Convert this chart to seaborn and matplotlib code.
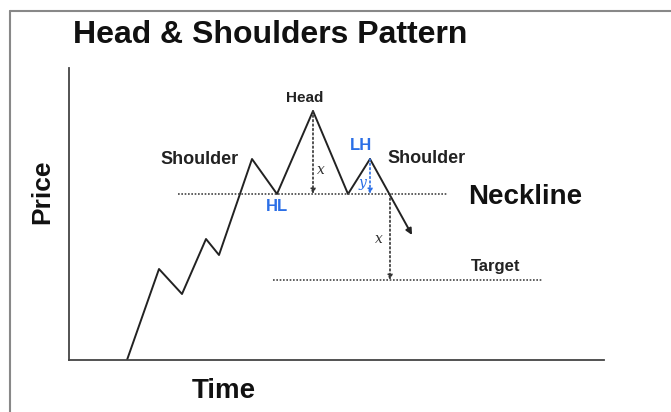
import matplotlib
matplotlib.use("Agg")
import matplotlib.pyplot as plt
import seaborn as sns
import pandas as pd
from matplotlib.lines import Line2D

sns.set_theme(style="white")
plt.rcParams['font.family'] = ['Liberation Sans', 'DejaVu Sans']

# Price path (time, price)
time = [58, 90, 113, 137, 150, 183, 208, 244, 279, 301]
price = [0, 91, 66, 121, 105, 201, 166, 249, 166, 201]
end_time, end_price = 343, 125          # arrow tip of the breakdown
neck_price = 166
neck_span = [109, 379]
target_price = 80
target_span = [204, 474]
head_t, lh_t, brk_t = 244, 301, 321

BLUE = "#2b6fe6"
DOT = (0, (1, 1))

fig = plt.figure(figsize=(6.71, 4.12), dpi=100)
W, H = 671, 412
ax = fig.add_axes([69 / W, 1 - 360 / H, (604 - 69) / W, (360 - 68) / H])

df = pd.DataFrame({"Time": time, "Price": price})
sns.lineplot(data=df, x="Time", y="Price", sort=False, color="#222222",
             linewidth=1.4, ax=ax)
ax.annotate("", xy=(end_time, end_price), xytext=(time[-1], price[-1]),
            arrowprops=dict(arrowstyle="-|>", color="#222222", lw=1.4,
                            mutation_scale=9, shrinkA=0, shrinkB=0))

# neckline & target
ax.plot(neck_span, [neck_price] * 2, color="#444444", lw=1.2, ls=DOT)
ax.plot(target_span, [target_price] * 2, color="#444444", lw=1.2, ls=DOT)

def varrow(t, y0, y1, color):
    ax.annotate("", xy=(t, y1), xytext=(t, y0),
                arrowprops=dict(arrowstyle="-|>", color=color, lw=1.2,
                                linestyle=":", mutation_scale=7,
                                shrinkA=0, shrinkB=0))

varrow(head_t, 249, neck_price, "#333333")
varrow(lh_t, 201, neck_price, BLUE)
varrow(brk_t, neck_price, target_price, "#333333")

ax.set_xlim(0, 535)
ax.set_ylim(0, 292)
ax.set_xticks([])
ax.set_yticks([])
ax.set_xlabel("")
ax.set_ylabel("")
for s in ["top", "right"]:
    ax.spines[s].set_visible(False)
for s in ["left", "bottom"]:
    ax.spines[s].set_color("#444444")
    ax.spines[s].set_linewidth(1.3)

bold = dict(fontweight="bold", ha="center", va="center")
ax.text(236, 262, "Head", fontsize=11, color="#222222", **bold)
ax.text(131, 200, "Shoulder", fontsize=13, color="#222222", **bold)
ax.text(358, 201, "Shoulder", fontsize=13, color="#222222", **bold)
ax.text(208, 153, "HL", fontsize=12, color=BLUE, **bold)
ax.text(292, 214, "LH", fontsize=12, color=BLUE, **bold)
ax.text(456, 163, "Neckline", fontsize=20, color="#111111", **bold)
ax.text(427, 93, "Target", fontsize=12, color="#222222", **bold)
ax.text(252, 190, "x", fontsize=10, style="italic", family="DejaVu Serif",
        ha="center", va="center", color="#333333")
ax.text(310, 121, "x", fontsize=10, style="italic", family="DejaVu Serif",
        ha="center", va="center", color="#333333")
ax.text(293, 177, "y", fontsize=10, style="italic", family="DejaVu Serif",
        ha="center", va="center", color=BLUE)

fig.text(270 / W, 1 - 35 / H, "Head & Shoulders Pattern", fontsize=23,
         fontweight="bold", ha="center", va="center", color="#111111")
fig.text(42 / W, 1 - 192 / H, "Price", fontsize=19, fontweight="bold",
         rotation=90, ha="center", va="center", color="#111111")
fig.text(224 / W, 1 - 391 / H, "Time", fontsize=20, fontweight="bold",
         ha="center", va="center", color="#111111")

# outer frame (cropped at right and bottom)
fig.add_artist(Line2D([10 / W, 1], [1 - 11 / H, 1 - 11 / H],
                      transform=fig.transFigure, color="#888888", lw=1.5))
fig.add_artist(Line2D([10 / W, 10 / W], [0, 1 - 11 / H],
                      transform=fig.transFigure, color="#888888", lw=1.5))

fig.savefig("out.png", dpi=100)
